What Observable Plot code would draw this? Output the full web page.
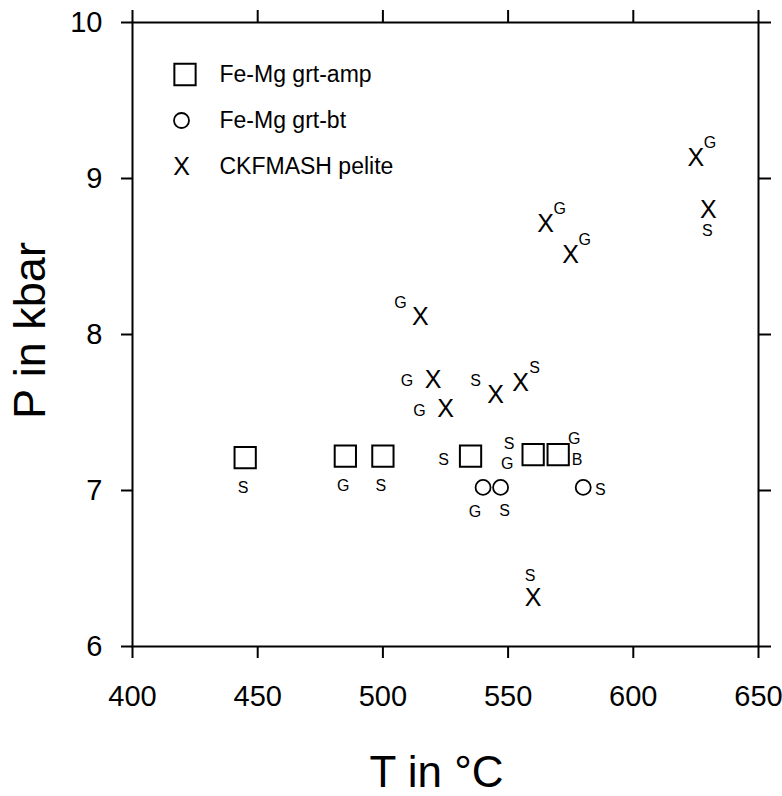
<!DOCTYPE html>
<html>
<head>
<meta charset="utf-8">
<script src="https://cdn.jsdelivr.net/npm/d3@7"></script>
<script src="https://cdn.jsdelivr.net/npm/@observablehq/plot@0.6"></script>
<style>
  html, body { margin: 0; padding: 0; background: #fff; }
  #chart svg { display: block; }
</style>
</head>
<body>
<div id="chart"></div>
<script>
// ---- data ----
const xTicks = [400, 450, 500, 550, 600, 650];
const yTicks = [6, 7, 8, 9, 10];

// Fe-Mg grt-amp (squares)
const ampT = [445, 485, 500, 535, 560, 570];
const ampP = [7.21, 7.22, 7.22, 7.22, 7.23, 7.23];
// Fe-Mg grt-bt (circles)
const btT = [540, 547, 580];
const btP = [7.02, 7.02, 7.02];
// CKFMASH pelite (X)
const pelT = [625, 630, 565, 575, 515, 520, 525, 545, 555, 560];
const pelP = [9.13, 8.80, 8.71, 8.51, 8.11, 7.71, 7.52, 7.61, 7.69, 6.31];

// point annotations: series, point index, letter, side
const noteSeries = ["amp","amp","amp","amp","amp","amp","amp","amp",
                    "bt","bt","bt",
                    "pel","pel","pel","pel","pel","pel","pel","pel","pel","pel"];
const noteIndex  = [0,1,2,3,4,4,5,5, 0,1,2, 0,1,2,3,4,5,6,7,8,9];
const noteText   = ["S","G","S","S","S","G","G","B", "G","S","S",
                    "G","S","G","G","G","G","G","S","S","S"];
const noteSide   = ["s","s","s","w","nw","sw","ne","e", "ssw","sse","e",
                    "ne","s","ne","ne","nw","w","w","nw","ne","n"];

const legendNames = ["Fe-Mg grt-amp", "Fe-Mg grt-bt", "CKFMASH pelite"];
const xTitle = "T in °C";
const yTitle = "P in kbar";

// ---- build ----
const series = {
  amp: ampT.map((t, i) => ({T: t, P: ampP[i]})),
  bt: btT.map((t, i) => ({T: t, P: btP[i]})),
  pel: pelT.map((t, i) => ({T: t, P: pelP[i]}))
};

const sideOffsets = {
  amp: {s: [-2, 30], w: [-27, 4], nw: [-24, -11], sw: [-26, 9], ne: [16, -16], e: [19, 5]},
  bt:  {ssw: [-8, 24], sse: [4, 23], e: [17, 2]},
  pel: {ne: [14, -15], s: [-1, 21], nw: [-20, -14], w: [-26, 1], n: [-3, -22]}
};

const notes = noteText.map((txt, i) => {
  const p = series[noteSeries[i]][noteIndex[i]];
  return {T: p.T, P: p.P, text: txt, key: noteSeries[i] + "|" + noteSide[i]};
});
const noteGroups = d3.groups(notes, d => d.key);
const noteMarks = noteGroups.map(([key, arr]) => {
  const [s, side] = key.split("|");
  const [dx, dy] = sideOffsets[s][side];
  return Plot.text(arr, {x: "T", y: "P", text: "text", dx, dy,
    fontSize: 16, textAnchor: "middle", lineAnchor: "middle", fill: "black"});
});

const font = "'Liberation Sans', Arial, Helvetica, sans-serif";
const xFont = "'Liberation Sans Narrow', 'Liberation Sans', Arial, sans-serif";

const legendRow = i => 52 + i * 46;

const chart = Plot.plot({
  width: 782,
  height: 796,
  marginLeft: 132,
  marginRight: 24,
  marginTop: 22,
  marginBottom: 150,
  x: {domain: [400, 650]},
  y: {domain: [6, 10]},
  style: {fontFamily: font, fontSize: "29px", background: "white", color: "black", overflow: "visible"},
  marks: [
    Plot.frame({stroke: "black", strokeWidth: 2}),
    Plot.axisX({anchor: "bottom", ticks: xTicks, tickSize: 12, tickPadding: 27, tickFormat: d3.format("d"), strokeWidth: 2, label: null}),
    Plot.axisX({anchor: "top", ticks: xTicks, tickSize: 13, tickFormat: () => "", strokeWidth: 2, label: null}),
    Plot.axisY({anchor: "left", ticks: yTicks, tickSize: 11, tickPadding: 19, tickFormat: d3.format("d"), strokeWidth: 2, label: null}),
    Plot.axisY({anchor: "right", ticks: yTicks, tickSize: 12, tickFormat: () => "", strokeWidth: 2, label: null}),
    // axis titles
    Plot.text([xTitle], {frameAnchor: "bottom", text: d => d, dx: -9, dy: 126,
      fontSize: 44, lineAnchor: "middle", textAnchor: "middle", fill: "black"}),
    Plot.text([yTitle], {frameAnchor: "left", text: d => d, dx: -102, dy: -4, rotate: -90,
      fontSize: 45, lineAnchor: "middle", textAnchor: "middle", fill: "black"}),
    // data
    Plot.dot(series.amp, {x: "T", y: "P", symbol: "square", r: 12, stroke: "black", strokeWidth: 2, fill: "none"}),
    Plot.dot(series.bt, {x: "T", y: "P", symbol: "circle", r: 7.5, stroke: "black", strokeWidth: 1.8, fill: "none"}),
    Plot.text(series.pel, {x: "T", y: "P", text: () => "X", fontSize: 25, fontFamily: xFont,
      textAnchor: "middle", lineAnchor: "middle", fill: "black"}),
    ...noteMarks,
    // legend
    Plot.dot([legendNames[0]], {frameAnchor: "top-left", dx: 52.5, dy: legendRow(0), symbol: "square", r: 12,
      stroke: "black", strokeWidth: 2, fill: "none"}),
    Plot.dot([legendNames[1]], {frameAnchor: "top-left", dx: 49, dy: legendRow(1), symbol: "circle", r: 7.5,
      stroke: "black", strokeWidth: 1.8, fill: "none"}),
    Plot.text([legendNames[2]], {frameAnchor: "top-left", dx: 49, dy: legendRow(2), text: () => "X",
      fontSize: 25, fontFamily: xFont, textAnchor: "middle", lineAnchor: "middle", fill: "black"}),
    ...legendNames.map((name, i) => Plot.text([name], {frameAnchor: "top-left", dx: 87, dy: legendRow(i),
      text: d => d, fontSize: 23, textAnchor: "start", lineAnchor: "middle", fill: "black"}))
  ]
});

document.getElementById("chart").appendChild(chart);
</script>
</body>
</html>
